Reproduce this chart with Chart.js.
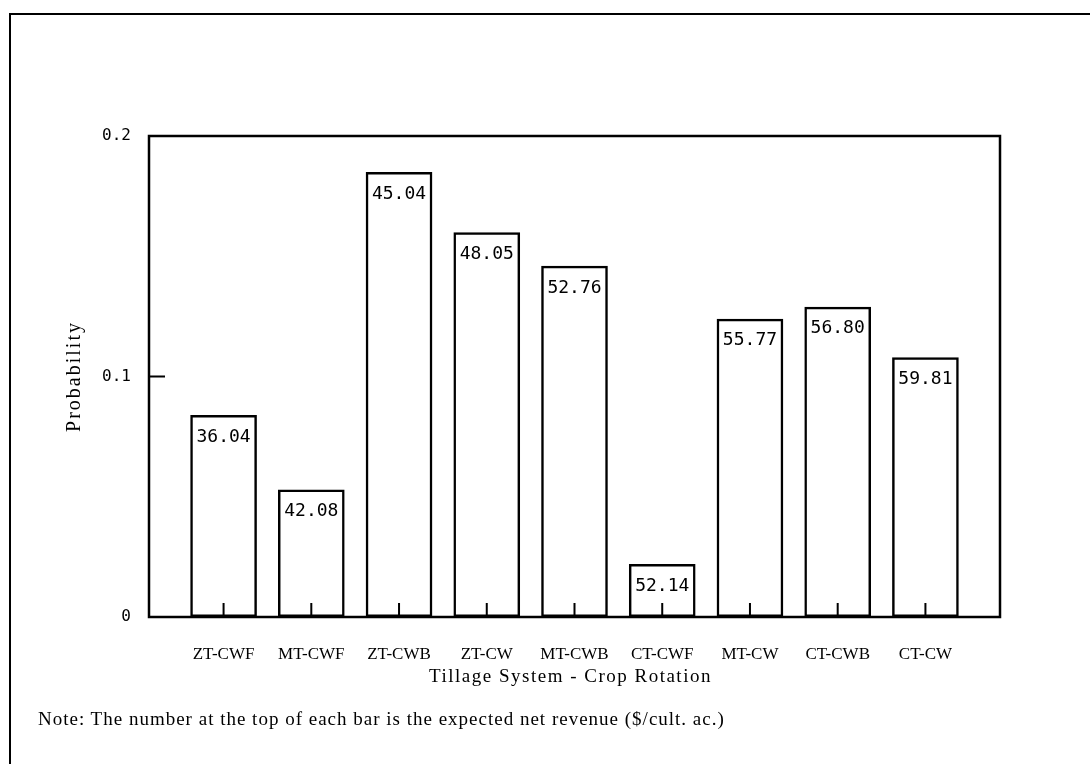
<!DOCTYPE html>
<html>
<head>
<meta charset="utf-8">
<script src="https://cdn.jsdelivr.net/npm/chart.js@4"></script>
<style>
  html, body { margin: 0; padding: 0; background: #fff; }
  body { width: 1090px; height: 764px; position: relative; overflow: hidden; }
  #frame { position: absolute; left: 9px; top: 13px; width: 1300px; height: 900px; border: 2px solid #000; }
  #wrap { position: absolute; left: 0; top: 0; width: 1090px; height: 764px; }
  #note { position: absolute; left: 38px; top: 708px; font: 19px "Liberation Serif", serif; letter-spacing: 1px; color: #000; white-space: nowrap; }
</style>
</head>
<body>
<div id="frame"></div>
<div id="wrap"><canvas id="myChart"></canvas></div>
<div id="note">Note: The number at the top of each bar is the expected net revenue ($/cult. ac.)</div>
<script>
const rotations = ['ZT-CWF', 'MT-CWF', 'ZT-CWB', 'ZT-CW', 'MT-CWB', 'CT-CWF', 'MT-CW', 'CT-CWB', 'CT-CW'];
const probability = [0.084, 0.053, 0.185, 0.160, 0.146, 0.022, 0.124, 0.129, 0.108];
const netRevenue = ['36.04', '42.08', '45.04', '48.05', '52.76', '52.14', '55.77', '56.80', '59.81'];
const yTicks = [0, 0.1, 0.2];
const xTitle = 'Tillage System - Crop Rotation';
const yTitle = 'Probability';

// frame, inner tick marks, revenue numbers and the spaced-out axis titles
const extras = {
    id: 'extras',
    afterDatasetsDraw(chart) {
        const ctx = chart.ctx;
        const a = chart.chartArea;
        const meta = chart.getDatasetMeta(0);
        ctx.save();
        ctx.strokeStyle = '#000';
        ctx.lineWidth = 2.5;
        ctx.strokeRect(a.left, a.top, a.right - a.left, a.bottom - a.top);

        ctx.lineWidth = 2;
        ctx.beginPath();
        meta.data.forEach(bar => {
            ctx.moveTo(bar.x, a.bottom);
            ctx.lineTo(bar.x, a.bottom - 14);
        });
        const y1 = chart.scales.y.getPixelForValue(yTicks[1]);
        ctx.moveTo(a.left, y1);
        ctx.lineTo(a.left + 16, y1);
        ctx.stroke();

        ctx.fillStyle = '#000';
        ctx.font = '18px "DejaVu Sans Mono", monospace';
        ctx.textAlign = 'center';
        ctx.textBaseline = 'middle';
        meta.data.forEach((bar, i) => {
            ctx.fillText(netRevenue[i], bar.x, bar.y + 22);
        });

        ctx.font = '19px "Liberation Serif", serif';
        ctx.letterSpacing = '1.5px';
        ctx.fillText(xTitle, (a.left + a.right) / 2 - 4, 677);

        ctx.translate(75, (a.top + a.bottom) / 2);
        ctx.rotate(-Math.PI / 2);
        ctx.font = '20px "Liberation Serif", serif';
        ctx.letterSpacing = '2px';
        ctx.fillText(yTitle, 0, 0);
        ctx.restore();
    }
};

const ctx = document.getElementById('myChart');

var aChart = new Chart(ctx, {
    type: 'bar',
    data: {
        datasets: [{
            data: probability.map((p, i) => ({ x: i, y: p })),
            backgroundColor: 'rgba(255,255,255,0)',
            borderColor: '#000',
            borderWidth: 2.5,
            borderSkipped: false,
            barPercentage: 0.76,
            categoryPercentage: 1
        }]
    },
    options: {
        responsive: true,
        maintainAspectRatio: false,
        animation: false,
        layout: { padding: { left: 0, top: 136, right: 90, bottom: 0 } },
        plugins: { legend: { display: false }, tooltip: { enabled: false } },
        scales: {
            x: {
                type: 'linear',
                offset: false,
                min: -0.85,
                max: 8.85,
                grid: { display: false },
                border: { display: false },
                ticks: {
                    stepSize: 1,
                    includeBounds: false,
                    autoSkip: false,
                    maxRotation: 0,
                    padding: 19,
                    color: '#000',
                    font: { family: '"Liberation Serif", serif', size: 17 },
                    callback: (v) => Number.isInteger(v) ? rotations[v] : ''
                },
                afterFit: (scale) => { scale.height = 147; }
            },
            y: {
                min: 0,
                max: 0.2,
                grid: { display: false },
                border: { display: false },
                afterBuildTicks: (scale) => { scale.ticks = yTicks.map(v => ({ value: v })); },
                ticks: {
                    padding: 10,
                    color: '#000',
                    font: { family: '"DejaVu Sans Mono", monospace', size: 16 },
                    callback: (v) => v === 0 ? '0' : v.toFixed(1)
                },
                afterFit: (scale) => { scale.width = 149; }
            }
        }
    },
    plugins: [extras]
});
</script>
</body>
</html>
